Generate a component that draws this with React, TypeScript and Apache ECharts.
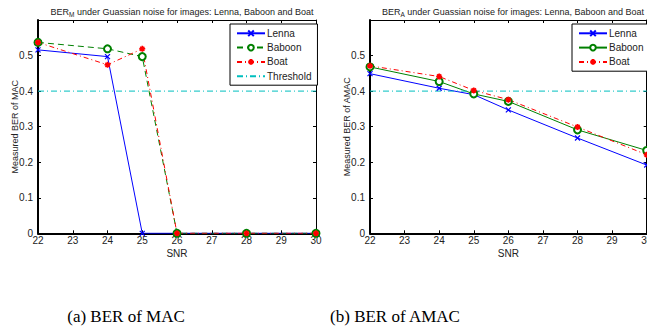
import React, { useEffect, useRef } from "react";
import * as echarts from "echarts";

const snr = [22, 24, 25, 26, 28, 30];
const lennaMAC = [0.516, 0.497, 0, 0, 0, 0];
const baboonMAC = [0.537, 0.519, 0.497, 0, 0, 0];
const boatMAC = [0.537, 0.474, 0.519, 0, 0, 0];
const lennaAMAC = [0.449, 0.408, 0.39, 0.347, 0.268, 0.192];
const baboonAMAC = [0.468, 0.427, 0.392, 0.371, 0.291, 0.233];
const boatAMAC = [0.471, 0.441, 0.402, 0.376, 0.299, 0.221];
const thresholdX = [22, 30];
const thresholdY = [0.4, 0.4];
const xTicks = [22, 23, 24, 25, 26, 27, 28, 29, 30];
const yTicks = [0, 0.1, 0.2, 0.3, 0.4, 0.5];

const FONT = "Liberation Sans";
const X_SYMBOL = "path://M0,0L10,10M10,0L0,10";
const STAR_SYMBOL = "path://M5,0L5,10M0,5L10,5M1.5,1.5L8.5,8.5M8.5,1.5L1.5,8.5";

const zip = (xs: number[], ys: number[]) => xs.map((x, i) => [x, ys[i]]);

function makeSeries(name: string, ys: number[], color: string, kind: string, lineType: any, xs = snr) {
  const base: any = {
    type: "line",
    name,
    data: zip(xs, ys),
    lineStyle: { color, width: 1, type: lineType },
    itemStyle: { color, borderColor: color, borderWidth: 1 },
    symbolKeepAspect: true,
    showAllSymbol: true,
  };
  if (kind === "x") {
    base.symbol = X_SYMBOL;
    base.symbolSize = 5;
    base.itemStyle = { color: "none", borderColor: color, borderWidth: 1.2 };
  } else if (kind === "o") {
    base.symbol = "emptyCircle";
    base.symbolSize = 7;
    base.itemStyle = { color, borderColor: color, borderWidth: 1 };
  } else if (kind === "*") {
    base.symbol = STAR_SYMBOL;
    base.symbolSize = 6;
    base.itemStyle = { color: "none", borderColor: color, borderWidth: 1.6 };
  } else {
    base.symbol = "none";
  }
  return base;
}

function axes(yName: string) {
  const xMain: any = {
    type: "value",
    min: 22,
    max: 30,
    interval: 1,
    name: "SNR",
    nameLocation: "middle",
    nameGap: 15,
    nameMoveOverlap: false,
    nameTextStyle: { fontFamily: FONT, fontSize: 10, color: "#222" },
    axisLine: { show: true, onZero: false, lineStyle: { color: "#000", width: 2 } },
    axisTick: { show: true, inside: true, length: 3, lineStyle: { color: "#000" } },
    axisLabel: {
      fontFamily: FONT,
      fontSize: 10,
      color: "#222",
      margin: 2,
      formatter: (v: number) => (xTicks.includes(v) ? String(v) : ""),
    },
    splitLine: { show: false },
  };
  const xTop: any = {
    type: "value",
    min: 22,
    max: 30,
    interval: 1,
    position: "top",
    axisLine: { show: true, onZero: false, lineStyle: { color: "#000", width: 1 } },
    axisTick: { show: true, inside: true, length: 3, lineStyle: { color: "#000" } },
    axisLabel: { show: false },
    splitLine: { show: false },
  };
  const yMain: any = {
    type: "value",
    min: 0,
    max: 0.6,
    interval: 0.1,
    name: yName,
    nameLocation: "middle",
    nameGap: 19,
    nameMoveOverlap: false,
    nameTextStyle: { fontFamily: FONT, fontSize: 9, color: "#222" },
    axisLine: { show: true, onZero: false, lineStyle: { color: "#000", width: 2 } },
    axisTick: { show: true, inside: true, length: 3, lineStyle: { color: "#000" } },
    axisLabel: {
      fontFamily: FONT,
      fontSize: 10,
      color: "#222",
      margin: 5,
      formatter: (v: number) => {
        const r = Math.round(v * 10) / 10;
        return yTicks.includes(r) ? String(r) : "";
      },
    },
    splitLine: { show: false },
  };
  const yRight: any = {
    type: "value",
    min: 0,
    max: 0.6,
    interval: 0.1,
    position: "right",
    axisLine: { show: true, onZero: false, lineStyle: { color: "#000", width: 1 } },
    axisTick: { show: true, inside: true, length: 3, lineStyle: { color: "#000" } },
    axisLabel: { show: false },
    splitLine: { show: false },
  };
  return { xAxis: [xMain, xTop], yAxis: [yMain, yRight] };
}

function titleText(sub: string) {
  return {
    text: `BER{sub|${sub}} under Guassian noise for images: Lenna, Baboon and Boat`,
    textStyle: {
      fontFamily: FONT,
      fontSize: 9,
      fontWeight: "normal",
      color: "#222",
      rich: {
        sub: { fontFamily: FONT, fontSize: 6.5, color: "#222", padding: [5, 0, 0, 0] },
      },
    },
  };
}

function legendOpt(names: any[], left: number, top: number) {
  return {
    orient: "vertical",
    left,
    top,
    data: names,
    backgroundColor: "#fff",
    borderColor: "#000",
    borderWidth: 1,
    borderRadius: 0,
    padding: [4, 6, 4, 6],
    itemGap: 4,
    itemWidth: 28,
    itemHeight: 7,
    textStyle: { fontFamily: FONT, fontSize: 10, color: "#222", padding: [0, 0, 0, -3] },
    selectedMode: false,
  };
}

const thresholdLegend = {
  name: "Threshold",
  itemStyle: { color: "rgba(0,0,0,0)", borderColor: "rgba(0,0,0,0)", borderWidth: 0, opacity: 0 },
};

function captionStyle() {
  return { fontFamily: "Liberation Serif", fontSize: 17, fontWeight: "normal", color: "#000" };
}

function buildLeft() {
  const { xAxis, yAxis } = axes("Measured BER of MAC");
  return {
    animation: false,
    backgroundColor: "transparent",
    title: [
      { ...titleText("M"), left: 177, top: 1, textAlign: "center" },
      { text: "(a) BER of MAC", left: 121, top: 303, textAlign: "center", textStyle: captionStyle() },
    ],
    grid: {
      left: 38,
      top: 20,
      width: 278,
      height: 213.3,
      containLabel: false,
      outerBoundsMode: "none",
      show: false,
    },
    xAxis,
    yAxis,
    legend: legendOpt(["Lenna", "Baboon", "Boat", thresholdLegend], 230, 24),
    series: [
      makeSeries("Lenna", lennaMAC, "#0000ff", "x", "solid"),
      makeSeries("Baboon", baboonMAC, "#008000", "o", [6, 4]),
      makeSeries("Boat", boatMAC, "#ff0000", "*", [5, 3, 1, 3]),
      makeSeries("Threshold", thresholdY, "#00bfbf", "none", [6, 3, 1, 3], thresholdX),
    ],
  };
}

const RIGHT_OFFSET = 325;

function buildRight() {
  const { xAxis, yAxis } = axes("Measured BER of AMAC");
  return {
    animation: false,
    backgroundColor: "transparent",
    title: [
      { ...titleText("A"), left: 508 - RIGHT_OFFSET, top: 1, textAlign: "center" },
      { text: "(b) BER of AMAC", left: 390 - RIGHT_OFFSET, top: 303, textAlign: "center", textStyle: captionStyle() },
    ],
    grid: {
      left: 370 - RIGHT_OFFSET,
      top: 20,
      width: 276.7,
      height: 213.3,
      containLabel: false,
      outerBoundsMode: "none",
      show: false,
    },
    xAxis,
    yAxis,
    legend: legendOpt(["Lenna", "Baboon", "Boat"], 572 - RIGHT_OFFSET, 24),
    series: [
      makeSeries("Lenna", lennaAMAC, "#0000ff", "x", "solid"),
      makeSeries("Baboon", baboonAMAC, "#008000", "o", "solid"),
      makeSeries("Boat", boatAMAC, "#ff0000", "*", [5, 3, 1, 3]),
      makeSeries("Threshold", thresholdY, "#00bfbf", "none", [6, 3, 1, 3], thresholdX),
    ],
  };
}

export default function App() {
  const leftRef = useRef<HTMLDivElement>(null);
  const rightRef = useRef<HTMLDivElement>(null);
  useEffect(() => {
    const a = echarts.init(leftRef.current!, null, { renderer: "svg" });
    const b = echarts.init(rightRef.current!, null, { renderer: "svg" });
    a.setOption(buildLeft() as any);
    b.setOption(buildRight() as any);
    return () => {
      a.dispose();
      b.dispose();
    };
  }, []);
  return (
    <div style={{ position: "fixed", left: 0, top: 0, width: 647, height: 335, background: "#fff", overflow: "hidden" }}>
      <div ref={leftRef} style={{ position: "absolute", left: 0, top: 0, width: 335, height: 335 }} />
      <div ref={rightRef} style={{ position: "absolute", left: RIGHT_OFFSET, top: 0, width: 647 - RIGHT_OFFSET, height: 335 }} />
    </div>
  );
}
